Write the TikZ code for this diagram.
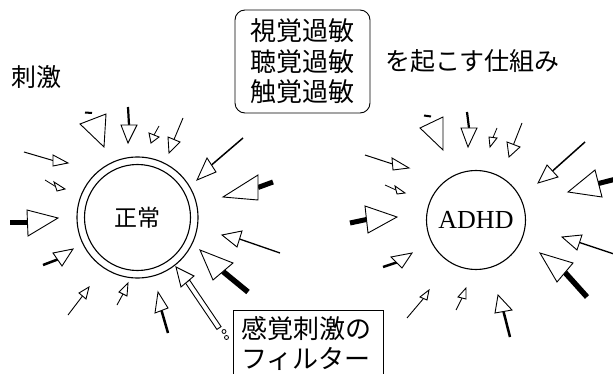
\documentclass[tikz,border=0pt]{standalone}
\usepackage{fontspec}
\setmainfont{Liberation Serif}
\newfontfamily\cjk{Noto Sans CJK JP}
\usetikzlibrary{calc}
\tikzset{
  headtri/.style={draw=black,fill=white,line width=0.9pt,line join=miter},
  ring/.style={draw=black,line width=1.1pt},
  jtext/.style={inner sep=0pt,font=\cjk\fontsize{25}{30}\selectfont},
  labelbox/.style={draw=black,line width=0.9pt,inner sep=0pt,align=center}
}
\newcommand{\stim}[5]{%
  \draw[line width=#1pt] #2 -- ($#4!0.5!#5$);
  \draw[headtri] #3 -- #4 -- #5 -- cycle;}
\begin{document}
\begin{tikzpicture}[x=1pt,y=-1pt]
\useasboundingbox (0,0) rectangle (613,374);
\fill[white] (0,0) rectangle (613,374);

% titles
\node[jtext] (stim) at (37,77) {刺激};
\node[labelbox,rounded corners=10pt,minimum width=135pt,minimum height=103pt,
      font=\cjk\fontsize{26}{30.5}\selectfont] (kinds) at (302.5,61.5)
      {視覚過敏\\聴覚過敏\\触覚過敏};
\node[jtext] (mech) at (472.5,61) {を起こす仕組み};

% left: normal
\node[ring,circle,minimum size=121pt,inner sep=0pt] (outer) at (137.5,217.5) {};
\node[ring,circle,minimum size=106pt,inner sep=0pt,
      font=\cjk\fontsize{23}{26}\selectfont] (normal) at (137.5,217.5) {正常};

% right: ADHD
\node[ring,circle,minimum size=99pt,inner sep=0pt,
      font=\fontsize{26}{28}\selectfont] (adhd) at (476,220) {ADHD};

% left stimuli
\draw[line width=2pt] (85,112.5) -- (92,113);
\draw[headtri] (104,147) -- (80,124) -- (106,114) -- cycle;
\stim{2.2}{(128,107)}{(128,143)}{(121,125)}{(137,125)}
\stim{0.8}{(159,126)}{(151,143)}{(149,133)}{(159,137)}
\stim{0.9}{(183,118)}{(169,153)}{(168,137)}{(180,142)}
\stim{1.5}{(243,138)}{(197,180)}{(207,158)}{(216,172)}
\stim{5}{(273,182)}{(223,197)}{(258,175)}{(258,200)}
\stim{1.3}{(280,253)}{(222,235)}{(242,231)}{(237,247)}
\stim{5.5}{(248,292)}{(200,250)}{(233,263)}{(213,280)}
\stim{2.5}{(168,333)}{(158,292)}{(155,313)}{(168,308)}
\stim{0.9}{(117,305)}{(128,283)}{(119,292)}{(127,296)}
\stim{0.9}{(68,315)}{(89,287)}{(79,293)}{(86,299)}
\stim{2.5}{(43,265)}{(73,249)}{(53,253)}{(62,266)}
\stim{5}{(10,223)}{(58,218)}{(27,210)}{(28,236)}
\stim{0.8}{(45,180)}{(65,189)}{(54,182)}{(57,191)}
\stim{1}{(24,152)}{(68,163)}{(53,155)}{(53,166)}

% filter arrow
\draw[headtri] (185.4,282.9) -- (216.9,329.4) -- (221.1,326.6) -- (189.6,280.1) -- cycle;
\draw[headtri] (176,267) -- (194,276) -- (181,287) -- cycle;
\draw[line width=0.8pt] (224,331.5) circle (2pt);
\draw[line width=0.8pt] (226.5,337.5) circle (2pt);

% filter label
\draw[line width=0.9pt] (233,380) -- (233,310) -- (383,310) -- (383,380);
\node[inner sep=0pt,align=center,font=\cjk\fontsize{26}{30}\selectfont] (filter) at (306,344)
  {感覚刺激の\\フィルター};

% right stimuli
\draw[line width=2pt] (424,115.5) -- (431,116.5);
\draw[headtri] (443,150) -- (420,128) -- (443,117) -- cycle;
\stim{2.2}{(467,112)}{(468,147)}{(461,128)}{(477,128)}
\stim{0.8}{(497,128)}{(490,147)}{(489,137)}{(497,138)}
\stim{0.9}{(522,123)}{(509,157)}{(507,142)}{(520,147)}
\stim{1.5}{(585,142)}{(538,183)}{(547,165)}{(558,177)}
\stim{5}{(620,178)}{(568,192)}{(595,170)}{(602,197)}
\stim{1.3}{(620,256)}{(562,237)}{(582,235)}{(577,250)}
\stim{5.5}{(587,297)}{(540,253)}{(573,263)}{(557,282)}
\stim{2.5}{(510,337)}{(498,295)}{(495,313)}{(512,310)}
\stim{0.9}{(456,310)}{(466,288)}{(458,297)}{(466,299)}
\stim{0.9}{(407,318)}{(429,290)}{(420,297)}{(427,300)}
\stim{2.5}{(383,267)}{(412,253)}{(391,257)}{(402,268)}
\stim{5}{(350,223)}{(397,217)}{(365,206)}{(368,233)}
\stim{0.8}{(385,185)}{(405,193)}{(395,186)}{(397,194)}
\stim{1}{(365,155)}{(409,168)}{(392,158)}{(393,170)}
\end{tikzpicture}
\end{document}
